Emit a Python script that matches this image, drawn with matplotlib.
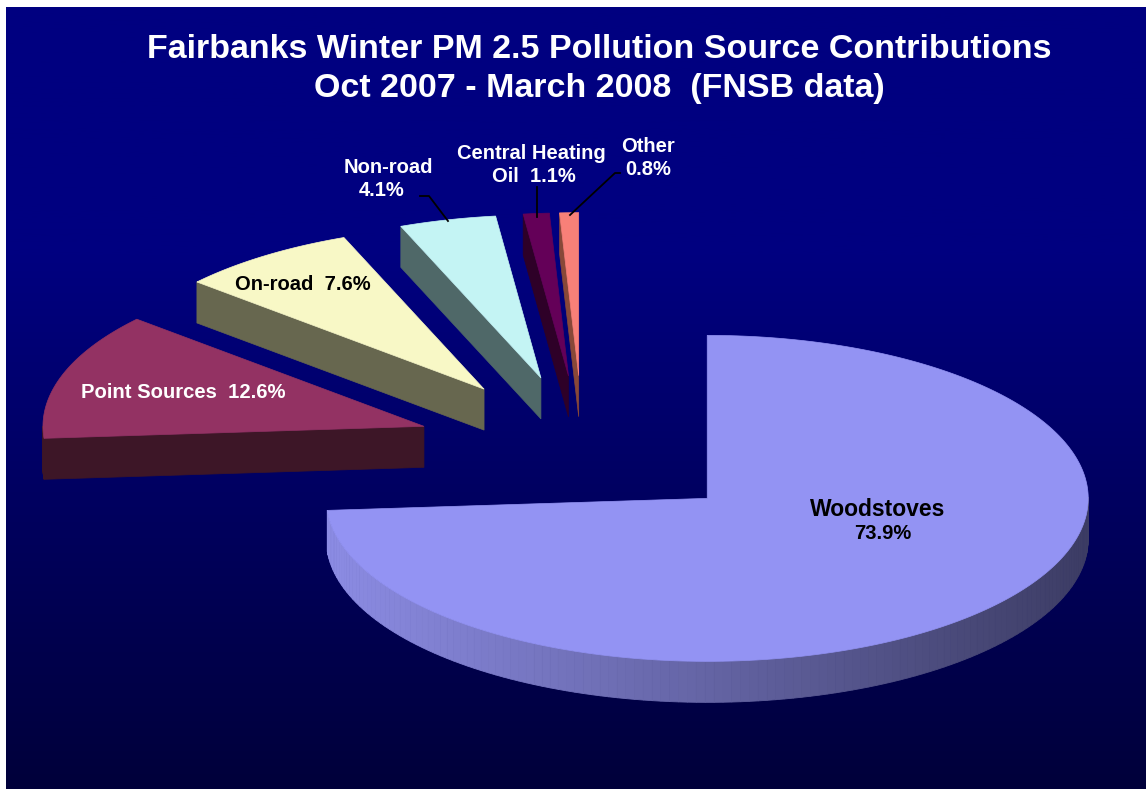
import numpy as np
import matplotlib.pyplot as plt
from matplotlib.patches import Polygon

# ----- Data -----
sources = ["Woodstoves", "Point Sources", "On-road", "Non-road", "Central Heating Oil", "Other"]
shares = [73.9, 12.6, 7.6, 4.1, 1.1, 0.8]

top_colors = ["#9393F3", "#933263", "#F8F8C6", "#C4F4F4", "#640058", "#F88078"]
side_colors = [None, "#3D1627", "#67674F", "#4F6868", "#2E0028", "#884838"]
explode = [0.445, 0.44, 0.45, 0.45, 0.45, 0.45]

# ----- Layout (pixel space) -----
W, H = 1148, 789
cx, cy = 583, 449          # pie centre before explosion
rx, ry = 381, 163          # ellipse radii of the tilted pie
depth = 41                 # thickness of the slab

plt.rcParams['font.family'] = ['Liberation Sans', 'DejaVu Sans']

fig = plt.figure(figsize=(W / 100, H / 100), dpi=100, facecolor="white")
ax = fig.add_axes([0, 0, 1, 1])
ax.set_xlim(0, W)
ax.set_ylim(H, 0)
ax.axis("off")

# background gradient: navy on top, fading darker toward bottom
ys = np.arange(H)
blue = np.where(ys < 250, 128, 128 - 70 * (ys - 250) / (H - 250)) / 255
grad = np.zeros((H, 1, 3))
grad[:, 0, 2] = blue
ax.imshow(grad, extent=[6, 1146, H, 7], aspect="auto", zorder=0)


def pt(c, t, dz=0):
    r = np.radians(t)
    return (c[0] + rx * np.cos(r), c[1] - ry * np.sin(r) + dz)


total = sum(shares)
spans = []
end = 90.0
for s in shares:
    sweep = s / total * 360
    spans.append((end - sweep, end))
    end -= sweep

centres = []
for i, (t0, t1) in enumerate(spans):
    mid = np.radians((t0 + t1) / 2)
    centres.append((cx + explode[i] * rx * np.cos(mid), cy - explode[i] * ry * np.sin(mid)))

light = np.array([140, 140, 228]) / 255
dark = np.array([60, 60, 100]) / 255

# draw back slices first, woodstoves last
for i in [5, 4, 3, 2, 1, 0]:
    t0, t1 = spans[i]
    c = centres[i]
    z = 2 + (5 - i)
    # radial faces
    for t, vis in ((t1, np.cos(np.radians(t1)) < -1e-6), (t0, np.cos(np.radians(t0)) > 1e-6)):
        if vis:
            e = pt(c, t)
            poly = [c, e, (e[0], e[1] + depth), (c[0], c[1] + depth)]
            col = side_colors[i] or tuple(light)
            ax.add_patch(Polygon(poly, closed=True, fc=col, ec=col, lw=0.5, zorder=z))
    # outer wall on front half
    ts = np.linspace(t0, t1, 200)
    for a, b in zip(ts[:-1], ts[1:]):
        if np.sin(np.radians((a + b) / 2)) >= 0:
            continue
        pa, pb = pt(c, a), pt(c, b)
        poly = [pa, pb, (pb[0], pb[1] + depth), (pa[0], pa[1] + depth)]
        if side_colors[i] is None:
            f = ((pa[0] + pb[0]) / 2 - (c[0] - rx)) / (2 * rx)
            col = tuple(light + (dark - light) * np.clip(f, 0, 1))
        else:
            col = side_colors[i]
        ax.add_patch(Polygon(poly, closed=True, fc=col, ec=col, lw=0.6, zorder=z))
    # top face
    arc = [pt(c, t) for t in np.linspace(t0, t1, 300)]
    ax.add_patch(Polygon([c] + arc, closed=True, fc=top_colors[i], ec=top_colors[i],
                         lw=0.5, zorder=z + 0.5))

# ----- Title -----
title_kw = dict(color="white", fontsize=24.5, fontweight="bold", ha="center", va="baseline", zorder=20)
ax.text(599, 58, "Fairbanks Winter PM 2.5 Pollution Source Contributions", **title_kw)
ax.text(599, 97, "Oct 2007 - March 2008  (FNSB data)", **title_kw)

# ----- Slice labels -----
lab = dict(fontweight="bold", va="baseline", zorder=20)
ax.text(878, 516, sources[0], color="black", fontsize=16.5, ha="center", **lab)
ax.text(883, 539, f"{shares[0]:.1f}%", color="black", fontsize=14.5, ha="center", **lab)
ax.text(81, 398, f"{sources[1]}  {shares[1]:.1f}%", color="white", fontsize=14.6, ha="left", **lab)
ax.text(303, 290, f"{sources[2]}  {shares[2]:.1f}%", color="black", fontsize=14.5, ha="center", **lab)
ax.text(388, 173, sources[3], color="white", fontsize=14.5, ha="center", **lab)
ax.text(382, 196, f"{shares[3]:.1f}%", color="white", fontsize=14.5, ha="center", **lab)
ax.text(531, 159, "Central Heating", color="white", fontsize=14.5, ha="center", **lab)
ax.text(534, 182, f"Oil  {shares[4]:.1f}%", color="white", fontsize=14.5, ha="center", **lab)
ax.text(648, 152, sources[5], color="white", fontsize=14.5, ha="center", **lab)
ax.text(648, 175, f"{shares[5]:.1f}%", color="white", fontsize=14.5, ha="center", **lab)

# leader lines
ax.plot([420, 429, 448], [196, 196, 221], color="black", lw=1.3, zorder=19)
ax.plot([537, 537], [187, 217], color="black", lw=1.3, zorder=19)
ax.plot([620, 615, 570], [173, 173, 215], color="black", lw=1.3, zorder=19)

fig.savefig("out.png", dpi=100, facecolor="white")
